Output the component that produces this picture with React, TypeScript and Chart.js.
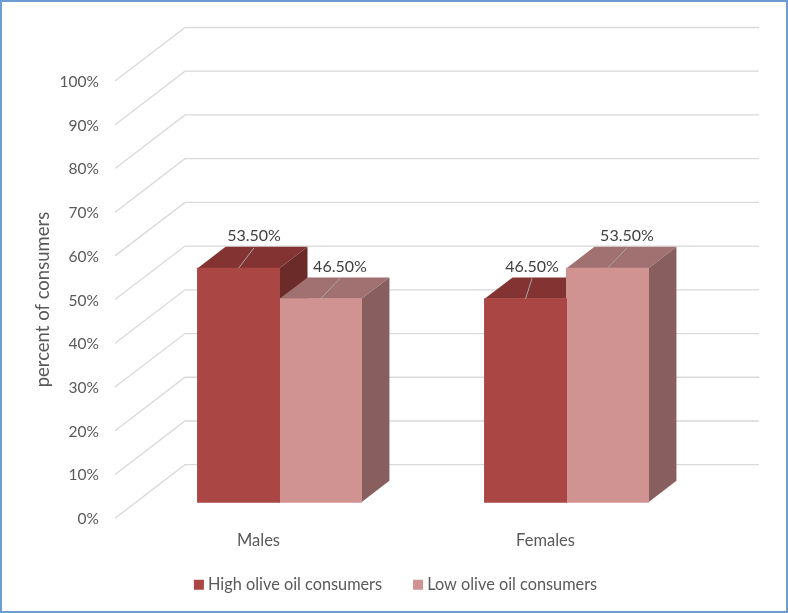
import React, { useEffect, useRef } from "react";
import { Chart, registerables } from "chart.js";

Chart.register(...registerables);

const categories = ["Males", "Females"];
const highValues = [53.5, 46.5];
const lowValues = [46.5, 53.5];
const seriesNames = ["High olive oil consumers", "Low olive oil consumers"];
const yTicks = { min: 0, max: 100, step: 10 };
const leaderShift = [
  [15.5, 6.5],
  [19.5, 19.5],
];

const FONT = "Lato, Carlito, 'Open Sans', sans-serif";
const WALL_X = 70;
const WALL_Y = -53.5;
const GAP = 0.3;
const DEPTH = 0.4;
const LEGEND_CENTER = 397.5;

const faces = [
  { front: "#AA4643", top: "#833331", side: "#6B2B29" },
  { front: "#D19292", top: "#A17070", side: "#885F5E" },
];

function poly(ctx: CanvasRenderingContext2D, pts: number[][], fill: string) {
  ctx.beginPath();
  pts.forEach(([x, y], i) => (i ? ctx.lineTo(x, y) : ctx.moveTo(x, y)));
  ctx.closePath();
  ctx.fillStyle = fill;
  ctx.fill();
}

function drawFaces(chart: any, di: number) {
  const { ctx } = chart;
  const f = faces[di];
  const dx = WALL_X * DEPTH;
  const dy = WALL_Y * DEPTH;
  ctx.save();
  ctx.translate(WALL_X * GAP, WALL_Y * GAP);
  chart.getDatasetMeta(di).data.forEach((el: any) => {
    const l = el.x - el.width / 2;
    const r = el.x + el.width / 2;
    poly(ctx, [[l, el.y], [l + dx, el.y + dy], [r + dx, el.y + dy], [r, el.y]], f.top);
    poly(ctx, [[r, el.y], [r + dx, el.y + dy], [r + dx, el.base + dy], [r, el.base]], f.side);
  });
  ctx.restore();
}

const wallPlugin = {
  id: "wall",
  afterLayout(chart: any) {
    const half = (chart.legend.right - chart.legend.left) / 2;
    chart.legend.left = LEGEND_CENTER - half;
    chart.legend.right = LEGEND_CENTER + half;
    // The legend's tall box leaves the category labels too little room of their own.
    chart.scales.x.bottom += 24;
  },
  beforeDatasetsDraw(chart: any) {
    const { ctx, scales, chartArea } = chart;
    ctx.save();
    ctx.strokeStyle = "#D9D9D9";
    ctx.lineWidth = 1.3;
    scales.y.ticks.forEach((t: any) => {
      const y = scales.y.getPixelForValue(t.value);
      ctx.beginPath();
      ctx.moveTo(chartArea.left, y);
      ctx.lineTo(chartArea.left + WALL_X, y + WALL_Y);
      ctx.lineTo(chartArea.right + WALL_X, y + WALL_Y);
      ctx.stroke();
    });
    ctx.restore();
    // The first series sits behind the second one's front face.
    drawFaces(chart, 0);
  },
  beforeDatasetDraw(chart: any, args: any) {
    if (args.index === 1) drawFaces(chart, 1);
    chart.ctx.save();
    chart.ctx.translate(WALL_X * GAP, WALL_Y * GAP);
  },
  afterDatasetDraw(chart: any) {
    chart.ctx.restore();
  },
  afterDatasetsDraw(chart: any) {
    const { ctx } = chart;
    ctx.save();
    ctx.translate(WALL_X * GAP, WALL_Y * GAP);
    [0, 1].forEach((di) => {
      const meta = chart.getDatasetMeta(di);
      meta.data.forEach((el: any, i: number) => {
        const value = chart.data.datasets[di].data[i] as number;
        const endX = el.x + leaderShift[di][i];
        const endY = el.y + WALL_Y * DEPTH + 1;
        ctx.strokeStyle = "#A6A6A6";
        ctx.lineWidth = 1;
        ctx.beginPath();
        ctx.moveTo(el.x, el.y);
        ctx.lineTo(endX, endY);
        ctx.stroke();
        ctx.fillStyle = "#404040";
        ctx.font = `16px ${FONT}`;
        ctx.textAlign = "center";
        ctx.textBaseline = "middle";
        ctx.fillText(`${value.toFixed(2)}%`, endX, endY - 12);
      });
    });
    ctx.restore();
  },
};

export default function App() {
  const ref = useRef<HTMLCanvasElement>(null);
  useEffect(() => {
    const chart = new Chart(ref.current!, {
      type: "bar",
      plugins: [wallPlugin],
      data: {
        labels: categories,
        datasets: [highValues, lowValues].map((data, i) => ({
          label: seriesNames[i],
          data,
          clip: false,
          backgroundColor: faces[i].front,
          borderWidth: 0,
          inflateAmount: 0.5,
          barPercentage: 1,
          categoryPercentage: 0.571,
        })),
      } as any,
      options: {
        animation: false,
        responsive: false,
        layout: { padding: { top: 81, right: 99, left: 32, bottom: 10 } },
        plugins: {
          tooltip: { enabled: false },
          legend: {
            position: "bottom",
            labels: {
              color: "#595959",
              usePointStyle: true,
              pointStyle: "rect",
              boxWidth: 2,
              boxHeight: 10,
              padding: 35,
              font: { family: FONT, size: 16.3 },
            },
          },
        },
        scales: {
          x: {
            grid: { display: false },
            border: { display: false },
            afterFit: (s: any) => {
              s.height = 23.5;
            },
            ticks: { color: "#595959", padding: 4.5, font: { family: FONT, size: 16.5 } },
          },
          y: {
            min: yTicks.min,
            max: yTicks.max,
            grid: { display: false, drawTicks: false },
            border: { display: false },
            afterFit: (s: any) => {
              s.width = 83;
            },
            ticks: {
              stepSize: yTicks.step,
              color: "#595959",
              padding: 16,
              labelOffset: 1,
              font: { family: FONT, size: 15.5 },
              callback: (v: any) => `${v}%`,
            },
            title: {
              display: true,
              text: "percent of consumers",
              color: "#595959",
              padding: 0,
              font: { family: FONT, size: 18.5, weight: "normal" },
            },
          },
        },
      },
    } as any);
    return () => chart.destroy();
  }, []);
  return (
    <div
      style={{
        position: "absolute",
        left: 0,
        top: 0,
        width: 788,
        height: 613,
        boxSizing: "border-box",
        border: "2px solid #6F9BD3",
        background: "#fff",
        overflow: "hidden",
      }}
    >
      <canvas ref={ref} width={788} height={613} style={{ position: "absolute", left: -2, top: -2 }} />
    </div>
  );
}
